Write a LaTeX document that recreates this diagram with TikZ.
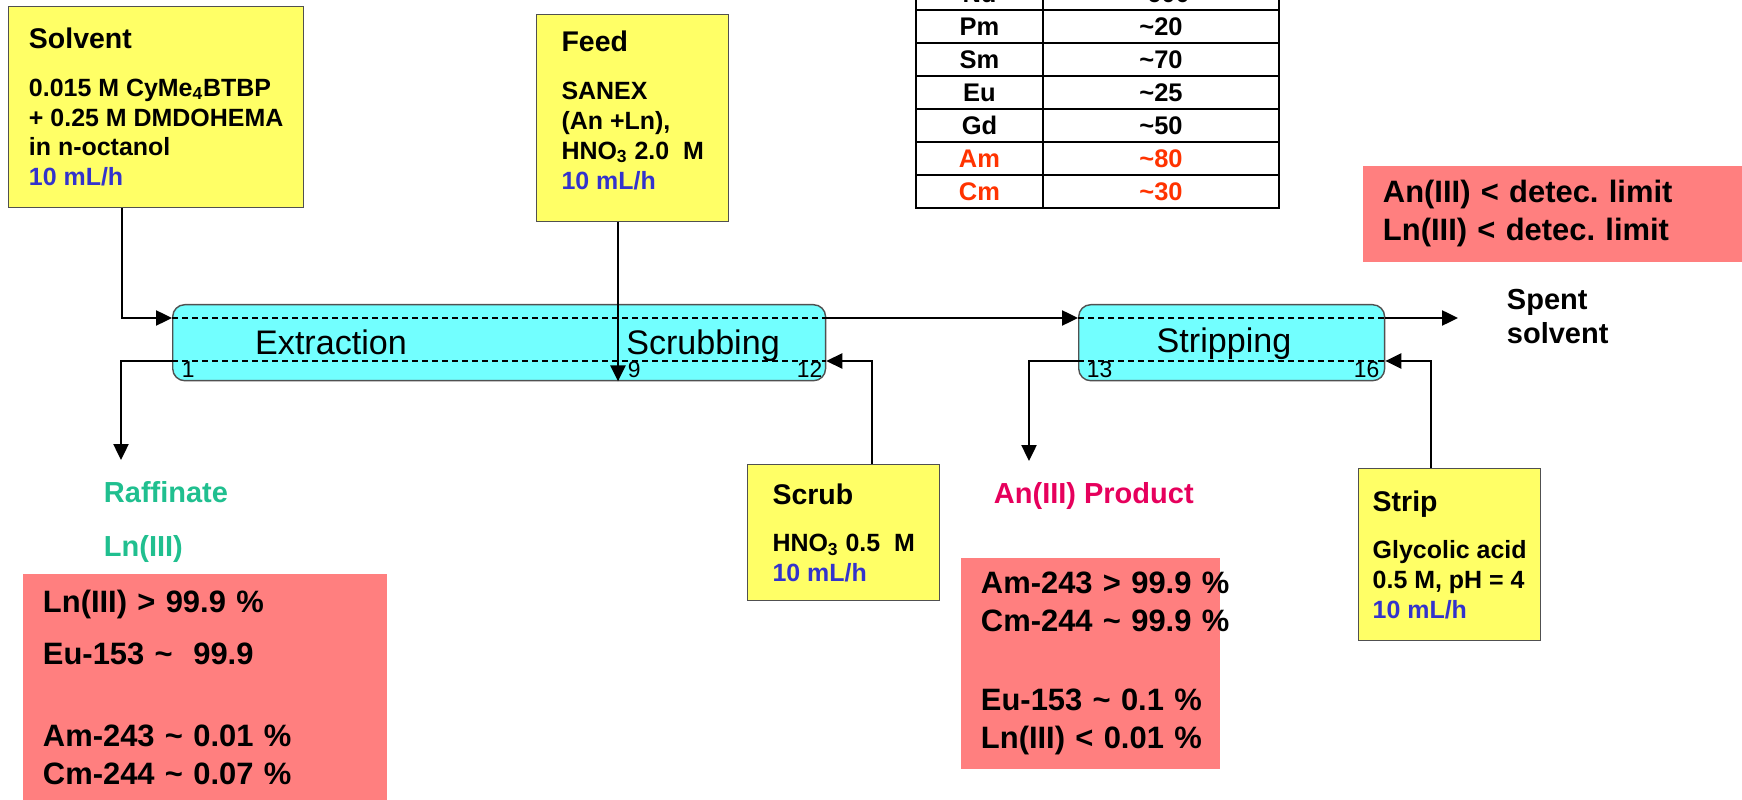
\documentclass[tikz,border=0pt]{standalone}
\usepackage{fontspec}
\setmainfont{Liberation Sans}
\setsansfont{Liberation Sans}
\usetikzlibrary{arrows.meta, positioning}
\definecolor{cyellow}{HTML}{FFFF66}
\definecolor{ccyan}{HTML}{72FFFF}
\definecolor{csalmon}{HTML}{FF7F7F}
\definecolor{cblue}{HTML}{3333CC}
\definecolor{cteal}{HTML}{20BF8F}
\definecolor{cpink}{HTML}{E6005C}
\definecolor{cred}{HTML}{FF3300}
\definecolor{cgrey}{HTML}{505050}
\tikzset{
  every picture/.style={font=\sffamily\bfseries, line width=1.1pt},
  stream/.style={draw=cgrey, line width=0.8pt, fill=cyellow, anchor=north west, align=left, inner sep=0pt, font=\fontsize{14.2}{17}\selectfont\bfseries},
  column/.style={draw=cgrey, line width=0.8pt, fill=ccyan, rounded corners=0.24cm, anchor=north west, inner sep=0pt},
  result/.style={fill=csalmon, anchor=north west, align=left, inner xsep=0.4cm, inner ysep=0pt, font=\fontsize{17.6}{21.6}\selectfont\bfseries},
  arrow/.style={-{Triangle[length=3.2mm, width=3mm]}, line width=1.4pt},
  interface/.style={dash pattern=on 1.2mm off 0.8mm, line width=0.7pt},
  stage/.style={font=\fontsize{13}{15}\selectfont\mdseries, anchor=base west, inner sep=0pt},
  section/.style={font=\fontsize{19.4}{23}\selectfont\mdseries, anchor=base, inner sep=0pt},
  outlet/.style={font=\fontsize{16.5}{19.5}\selectfont\bfseries, anchor=base west, inner sep=0pt},
  cell/.style={font=\fontsize{14.5}{17}\selectfont\bfseries, inner sep=0pt},
}
\begin{document}
\frenchspacing
\begin{tikzpicture}[x=0.02cm, y=-0.02cm]
  \useasboundingbox (0,0) rectangle (1742,800);
  \node[stream, minimum width=5.9cm, minimum height=4.02cm] (solvent) at (8,6) {{\fontsize{16.2}{19}\selectfont Solvent}\\[10pt]0.015 M CyMe\textsubscript{4}BTBP\\+ 0.25 M DMDOHEMA\\in n-octanol\\\textcolor{cblue}{10 mL/h}};
  \node[stream, minimum width=3.84cm, minimum height=4.14cm, text depth=0.32cm] (feed) at (536,14) {{\fontsize{16.2}{19}\selectfont Feed}\\[10pt]SANEX\\(An +Ln),\\HNO\textsubscript{3} 2.0~ M\\\textcolor{cblue}{10 mL/h}};
  \node[stream, minimum width=3.84cm, minimum height=2.72cm] (scrub) at (747,464) {{\fontsize{16.2}{19}\selectfont Scrub}\\[10pt]HNO\textsubscript{3} 0.5~ M\\\textcolor{cblue}{10 mL/h}};
  \node[stream, minimum width=3.64cm, minimum height=3.44cm] (strip) at (1358,468) {{\fontsize{16.2}{19}\selectfont Strip}\\[10pt]Glycolic acid\\0.5 M, pH = 4\\\textcolor{cblue}{10 mL/h}};

  \node[column, minimum width=13.06cm, minimum height=1.52cm] (extscr) at (172,304) {};
  \node[column, minimum width=6.12cm, minimum height=1.52cm] (stripping) at (1078,304) {};
  \foreach \c in {extscr, stripping}
    \foreach \y in {318, 361}
      \draw[interface] (\c.west |- 0,\y) -- (\c.east |- 0,\y);
  \node[section] (extlbl) at (331,355) {Extraction};
  \node[section] (scrlbl) at (703,355) {Scrubbing};
  \node[section] (strlbl) at (1224,353) {Stripping};
  \node[stage] (s1) at (181,378) {1};
  \node[stage] (s9) at (627,378) {9};
  \node[stage] (s12) at (796,378) {12};
  \node[stage] (s13) at (1086,378) {13};
  \node[stage] (s16) at (1353,378) {16};

  \coordinate (raff) at (121,460);
  \coordinate (prod) at (1029,461);
  \coordinate (spent) at (1458,318);
  \draw[arrow] (solvent.south -| 122,0) |- (extscr.west |- 0,318);
  \draw[arrow] (feed.south -| 618,0) -- (extscr.south -| 618,0);
  \draw[arrow] (scrub.north -| 872,0) |- (extscr.east |- 0,361);
  \draw[arrow] (extscr.west |- 0,361) -| (raff);
  \draw[arrow] (extscr.east |- 0,318) -- (stripping.west |- 0,318);
  \draw[arrow] (stripping.west |- 0,361) -| (prod);
  \draw[arrow] (strip.north -| 1431,0) |- (stripping.east |- 0,361);
  \draw[arrow] (stripping.east |- 0,318) -- (spent);

  \node[outlet, text=cteal] (rafflbl) at (103,502) {Raffinate};
  \node[outlet, text=cteal] (raffln) at (103,557) {Ln(III)};
  \node[outlet, text=cpink] (prodlbl) at (993,503) {An(III) Product};
  \node[outlet, anchor=north west, align=left] (spentlbl) at (1506,288) {Spent\\solvent};

  \node[result, minimum height=4.54cm, text width=6.48cm] (raffres) at (22,573) {Ln(III) > 99.9 \%\\[8pt]Eu-153 \textasciitilde{}~ 99.9\\[25pt]Am-243 \textasciitilde{} 0.01 \%\\Cm-244 \textasciitilde{} 0.07 \%};
  \node[result, minimum height=4.22cm, text width=4.38cm] (prodres) at (960,557) {\mbox{Am-243 > 99.9 \%}\\\mbox{Cm-244 \textasciitilde{} 99.9 \%}\\[23pt]\mbox{Eu-153 \textasciitilde{} 0.1 \%}\\\mbox{Ln(III) < 0.01 \%}};
  \node[result, minimum height=1.92cm, text width=6.8cm] (spentres) at (1362,165) {An(III) < detec. limit\\Ln(III) < detec. limit};

  \draw (916,-23) rectangle (1279,208);
  \draw (1043,-23) -- (1043,208);
  \foreach \y in {10,43,76,109,142,175}
    \draw (916,\y) -- (1279,\y);
  \foreach \el/\val/\col [count=\i from 0] in {Nd/600/black, Pm/20/black, Sm/70/black, Eu/25/black, Gd/50/black, Am/80/cred, Cm/30/cred} {
    \node[cell, text=\col] (el-\i) at (979.5,{-6.5+33*\i}) {\el};
    \node[cell, text=\col] (val-\i) at (1161,{-6.5+33*\i}) {\textasciitilde\val};
  }
\end{tikzpicture}
\end{document}
